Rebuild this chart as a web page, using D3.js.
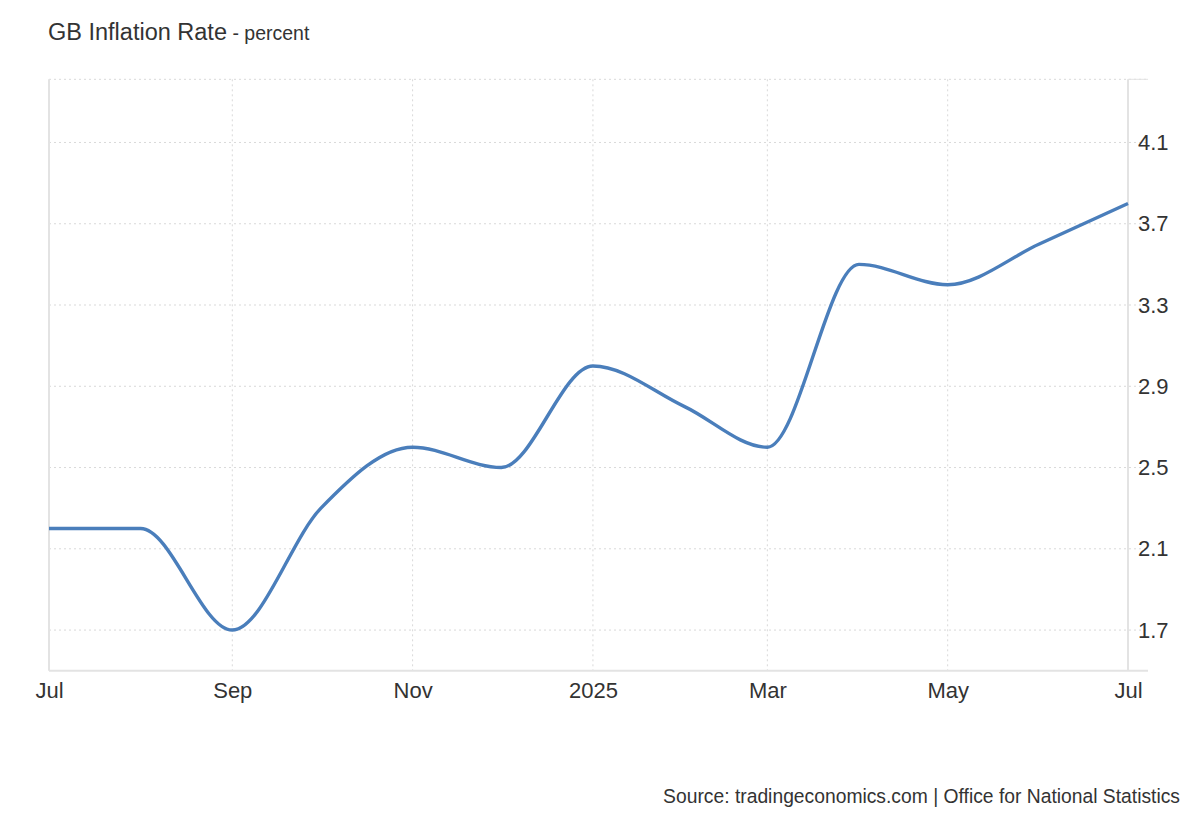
<!DOCTYPE html>
<html><head><meta charset="utf-8">
<script src="https://cdn.jsdelivr.net/npm/d3@7"></script>
<style>body{margin:0;background:#fff;font-family:Arial,"Liberation Sans",sans-serif;}</style>
</head><body><svg id="c" width="1200" height="820"></svg>
<script>
const dates = ["2024-07-01","2024-08-01","2024-09-01","2024-10-01","2024-11-01","2024-12-01","2025-01-01","2025-02-01","2025-03-01","2025-04-01","2025-05-01","2025-06-01","2025-07-01"];
const values = [2.2,2.2,1.7,2.3,2.6,2.5,3.0,2.8,2.6,3.5,3.4,3.6,3.8];
const yTicks = [1.7,2.1,2.5,2.9,3.3,3.7,4.1];
const xTickDates = ["2024-07-01","2024-09-01","2024-11-01","2025-01-01","2025-03-01","2025-05-01","2025-07-01"];
const xTickLabels = ["Jul","Sep","Nov","2025","Mar","May","Jul"];

const parse = d3.utcParse("%Y-%m-%d");
const data = dates.map((d,i)=>({date:parse(d), value:values[i]}));
const svg = d3.select("#c");
const L=49, R=1128, T=79.3, B=670.7;
const x = d3.scaleUtc().domain([parse("2024-07-01"), parse("2025-07-01")]).range([L,R]);
const y = d3.scaleLinear().domain([1.5, 4.411]).range([B,T]);
const FONT = "Arial,'Liberation Sans',sans-serif";

// horizontal grid
svg.append("g").selectAll("line").data(yTicks.concat([4.411])).join("line")
  .attr("x1",L).attr("x2",R+20).attr("y1",d=>y(d)).attr("y2",d=>y(d))
  .attr("stroke","#d9d9d9").attr("stroke-width",1).attr("stroke-dasharray","2,3");
// vertical grid
svg.append("g").selectAll("line").data(xTickDates.slice(1,-1)).join("line")
  .attr("x1",d=>x(parse(d))).attr("x2",d=>x(parse(d))).attr("y1",T).attr("y2",B)
  .attr("stroke","#d9d9d9").attr("stroke-width",1).attr("stroke-dasharray","2,3");
// axes lines
svg.append("line").attr("x1",L).attr("x2",L).attr("y1",T).attr("y2",B).attr("stroke","#e3e3e3").attr("stroke-width",2);
svg.append("line").attr("x1",R).attr("x2",R).attr("y1",T).attr("y2",B).attr("stroke","#e3e3e3").attr("stroke-width",2);
svg.append("line").attr("x1",L).attr("x2",R+20).attr("y1",B).attr("y2",B).attr("stroke","#e3e3e3").attr("stroke-width",2);
svg.append("line").attr("x1",R).attr("x2",R+20).attr("y1",T).attr("y2",T).attr("stroke","#e3e3e3").attr("stroke-width",1);

// y labels
const yAxis = d3.axisRight(y).tickValues(yTicks).tickFormat(d3.format(".1f")).tickSize(0).tickPadding(10);
const ya = svg.append("g").attr("transform",`translate(${R},0)`).call(yAxis);
ya.select(".domain").remove();
ya.selectAll("text").attr("font-size",22).attr("fill","#333").attr("font-family",FONT);

// x labels
const xAxis = d3.axisBottom(x).tickValues(xTickDates.map(parse)).tickFormat((d,i)=>xTickLabels[i]).tickSize(0).tickPadding(12);
const xa = svg.append("g").attr("transform",`translate(0,${B})`).call(xAxis);
xa.select(".domain").remove();
xa.selectAll("text").attr("font-size",22).attr("fill","#333").attr("font-family",FONT);

// line
svg.append("path").datum(data)
  .attr("d", d3.line().x(d=>x(d.date)).y(d=>y(d.value)).curve(d3.curveMonotoneX))
  .attr("fill","none").attr("stroke","#4a7ebb").attr("stroke-width",3.4).attr("stroke-linejoin","round");

// title
const t = svg.append("text").attr("x",48).attr("y",40).attr("fill","#333").attr("font-family",FONT);
t.append("tspan").attr("font-size",23.5).text("GB Inflation Rate");
t.append("tspan").attr("font-size",19.5).text(" - percent");

svg.append("text").attr("x",1180).attr("y",803).attr("text-anchor","end").attr("font-size",19.3)
  .attr("fill","#333").attr("font-family",FONT)
  .text("Source: tradingeconomics.com | Office for National Statistics");
</script></body></html>
